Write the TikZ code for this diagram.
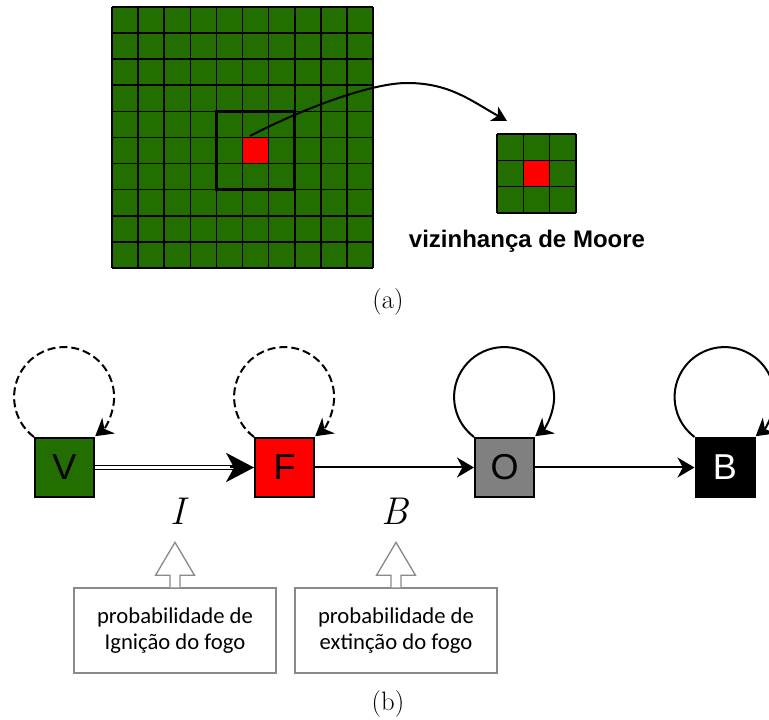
\documentclass[tikz,border=0pt]{standalone}
\usepackage{fontspec}
\usetikzlibrary{arrows.meta,calc}
\newfontfamily\arialf{Liberation Sans}
\newfontfamily\calibrif{Carlito}
\definecolor{cellgreen}{HTML}{226E00}
\definecolor{ogray}{HTML}{808080}
\definecolor{notegray}{HTML}{8A8A8A}
\tikzset{
  gridline/.style={line width=1.2pt, black},
  state/.style={draw=black, line width=1.5pt, minimum size=44.25pt, inner sep=0pt,
    font=\arialf\fontsize{27}{30}\selectfont},
  smalltip/.style={-{Stealth[length=12.75pt,width=15pt,inset=4pt]}},
  trans/.style={smalltip, line width=1.5pt},
  loopsolid/.style={smalltip, line width=1.5pt},
  loopdash/.style={smalltip, line width=1.5pt, dash pattern=on 6pt off 3pt},
  dbl/.style={line width=1.1pt, double=white, double distance=1.6pt},
  bigtip/.style={-{Stealth[length=21pt,width=22pt,inset=6pt]}, line width=1.5pt},
  notebox/.style={draw=notegray, line width=1pt, minimum width=151.5pt, minimum height=63.75pt,
    inner sep=0pt, align=center, font=\calibrif\fontsize{17}{19.5}\selectfont},
  hollow/.style={draw=notegray, line width=1pt, fill=white, line join=miter},
  mathlbl/.style={inner sep=0pt, font=\itshape\fontsize{29}{34}\selectfont},
  caplbl/.style={inner sep=0pt, font=\fontsize{20}{24}\selectfont},
  curvearrow/.style={-{Stealth[length=11pt,width=12pt,inset=3pt]}, line width=1.5pt}
}
\begin{document}
\begin{tikzpicture}[x=0.75pt,y=-0.75pt]
\useasboundingbox (0,0) rectangle (769,720);
\fill[white] (0,0) rectangle (769,720);
% ---------- big grid ----------
\fill[cellgreen] (112,7) rectangle (373,268);
\fill[red] (242.5,137.5) rectangle (268.6,163.6);
\foreach \i in {0,...,10} {
  \draw[gridline] ({112+26.1*\i},7) -- ({112+26.1*\i},268);
  \draw[gridline] (112,{7+26.1*\i}) -- (373,{7+26.1*\i});
}
\draw[line width=2.25pt] (216.4,111.4) rectangle (294.7,189.7);
% ---------- small grid ----------
\fill[cellgreen] (497,134) rectangle (576,213);
\fill[red] (523.3,160.3) rectangle (549.7,186.7);
\foreach \i in {0,...,3} {
  \draw[gridline] ({497+26.33*\i},134) -- ({497+26.33*\i},213);
  \draw[gridline] (497,{134+26.33*\i}) -- (576,{134+26.33*\i});
}
\coordinate (src) at (250,136);
\coordinate (apex) at (407,83);
\coordinate (dst) at (507,121);
\draw[curvearrow] (src) .. controls (300,110) and (370,83) .. (apex)
  .. controls (449,83) and (470,100) .. (dst);
\node[font=\arialf\bfseries\fontsize{18}{21}\selectfont, anchor=base, inner sep=0pt] (moore) at (527,248) {vizinhança de Moore};
\node[caplbl] (capa) at (388,302) {(a)};
% ---------- states ----------
\node[state, fill=cellgreen] (V) at (64.5,467.5) {V};
\node[state, fill=red] (F) at (284.5,467.5) {F};
\node[state, fill=ogray] (O) at (504.5,467.5) {O};
\node[state, fill=black, text=white] (B) at (725,467.5) {B};
\draw[loopdash] (V.north west) arc[start angle=127, end angle=411.5, radius=50];
\draw[loopdash] (F.north west) arc[start angle=127, end angle=411.5, radius=50];
\draw[loopsolid] (O.north west) arc[start angle=127, end angle=411.5, radius=50];
\draw[loopsolid] (B.north west) arc[start angle=127, end angle=411.5, radius=50];
\draw[dbl] (V.east) -- ($(F.west)+(-20,0)$);
\draw[bigtip] ($(F.west)+(-24,0)$) -- (F.west);
\draw[trans] (F) -- (O);
\draw[trans] (O) -- (B);
\node[mathlbl] (lI) at (178,511.5) {I};
\node[mathlbl] (lB) at (395,511.5) {B};
% ---------- notes ----------
\node[notebox] (n1) at (175,630.5) {probabilidade de\\Ignição do fogo};
\node[notebox] (n2) at (396,630.5) {probabilidade de\\extinção do fogo};
\draw[hollow] ($(n1.north)+(-5,0)$) -- ++(0,-12) -- ++(-14.5,0) -- ++(19.5,-33) -- ++(19.5,33) -- ++(-14.5,0) -- ++(0,12);
\draw[hollow] ($(n2.north)+(-5,0)$) -- ++(0,-12) -- ++(-14.5,0) -- ++(19.5,-33) -- ++(19.5,33) -- ++(-14.5,0) -- ++(0,12);
\node[caplbl] (capb) at (388,704) {(b)};
\end{tikzpicture}
\end{document}
